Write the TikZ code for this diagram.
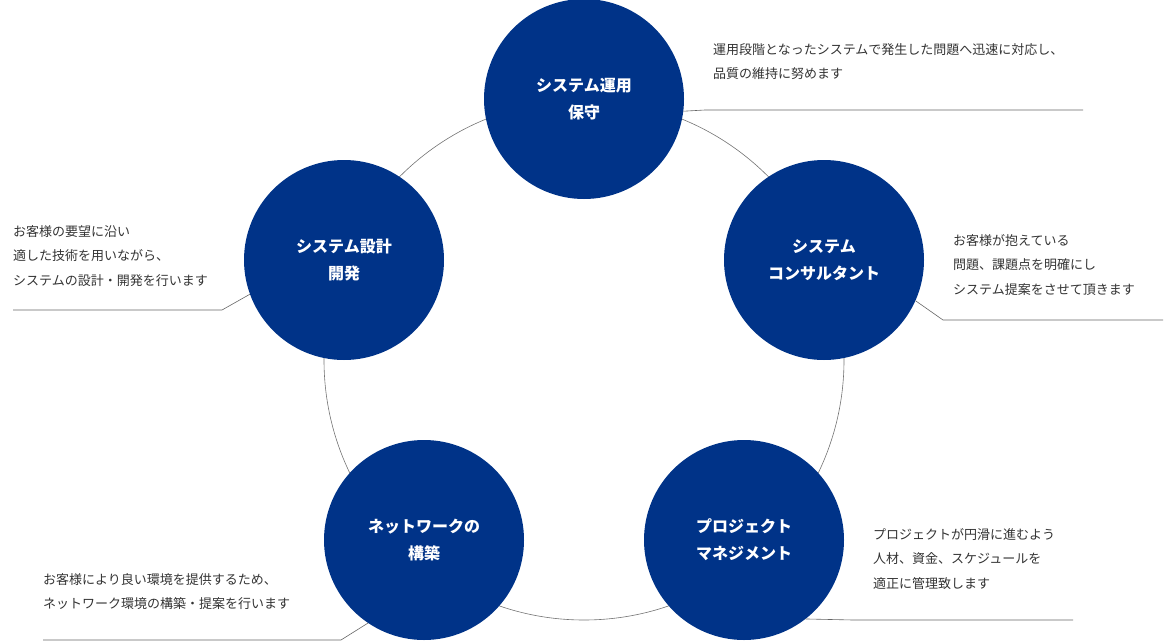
\documentclass[tikz,border=0pt]{standalone}
\usepackage{fontspec}
\setmainfont{Noto Sans CJK JP}
\definecolor{navy}{HTML}{003388}
\tikzset{
  service/.style={circle, fill=navy, minimum size=200pt, inner sep=0pt, text=white,
    font=\fontsize{16}{27}\selectfont\bfseries, align=center},
  note/.style={anchor=north west, inner sep=0pt, align=left, text=black!80,
    font=\fontsize{13}{24.5}\selectfont},
  leader/.style={draw=black!60, line width=0.6pt}
}
\begin{document}
\begin{tikzpicture}[x=1pt,y=-1pt]
  \useasboundingbox (0,0) rectangle (1170,642);
  % ring behind the circles
  \coordinate (M) at (584,360);
  \draw[black!55, line width=0.6pt] (M) circle (260);

  \node[service] (ops)  at (584,99)  {システム運用\\保守};
  \node[service] (cons) at (824,260) {システム\\コンサルタント};
  \node[service] (pm)   at (744,540) {プロジェクト\\マネジメント};
  \node[service] (net)  at (424,540) {ネットワークの\\構築};
  \node[service] (dev)  at (344,260) {システム設計\\開発};

  % notes
  \node[note] (opsN)  at (713,43)  {運用段階となったシステムで発生した問題へ迅速に対応し、\\品質の維持に努めます};
  \node[note] (consN) at (953,234) {お客様が抱えている\\問題、課題点を明確にし\\システム提案をさせて頂きます};
  \node[note] (pmN)   at (873,528) {プロジェクトが円滑に進むよう\\人材、資金、スケジュールを\\適正に管理致します};
  \node[note] (netN)  at (43,573)  {お客様により良い環境を提供するため、\\ネットワーク環境の構築・提案を行います};
  \node[note] (devN)  at (13,225)  {お客様の要望に沿い\\適した技術を用いながら、\\システムの設計・開発を行います};

  % leaders
  \coordinate (a1) at (705,110); \coordinate (a2) at (1083,110);
  \coordinate (b1) at (943,320); \coordinate (b2) at (1163,320);
  \coordinate (c1) at (853,620); \coordinate (c2) at (1073,620);
  \coordinate (d1) at (341,640); \coordinate (d2) at (43,640);
  \coordinate (e1) at (222,310); \coordinate (e2) at (13,310);
  \draw[leader] (ops.-7)   -- (a1) -- (a2);
  \draw[leader] (cons.-24) -- (b1) -- (b2);
  \draw[leader] (pm.-52)   -- (c1) -- (c2);
  \draw[leader] (net.-124) -- (d1) -- (d2);
  \draw[leader] (dev.-160) -- (e1) -- (e2);
\end{tikzpicture}
\end{document}
